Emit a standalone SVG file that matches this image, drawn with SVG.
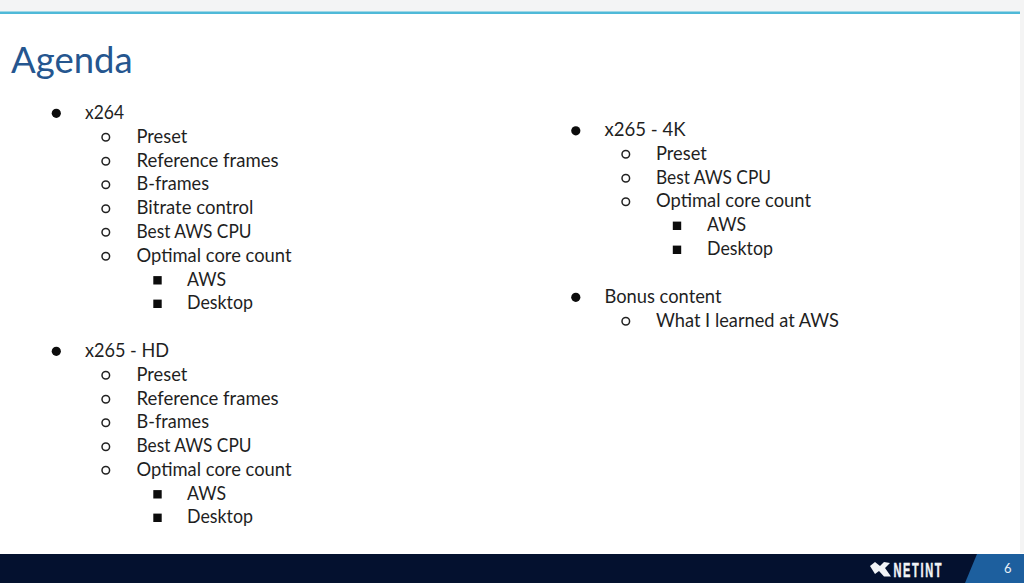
<svg xmlns="http://www.w3.org/2000/svg" width="1024" height="583" viewBox="0 0 1024 583">
<style>
text{font-family:"Lato","Carlito","Open Sans",sans-serif;fill:#1f1f1f;font-size:18.3px}
.t{font-size:36.500px;fill:#25568f}
.l{fill:#0c0c0c}
.o{fill:none;stroke:#222;stroke-width:1.5}
.s{fill:#0c0c0c}
</style>
<defs>
<circle id="b" r="4.6" class="l"/>
<circle id="c" r="3.8" class="o"/>
<rect id="q" x="-4.200" y="-4.200" width="8.400" height="8.400" class="s"/>
</defs>
<rect width="1024" height="583" fill="#fff"/>
<rect width="1024" height="12" fill="#f3f4f5"/>
<rect y="11.500" width="1020" height="2.500" fill="#4fb9d8"/>
<rect x="1020" width="4" height="553" fill="#f4f4f4"/>
<text class="t" x="11" y="73">Agenda</text>
<g id="col1" transform="translate(0 0.800)">
<use href="#b" x="56.300" y="112.500"/><text x="85" y="118" textLength="39" lengthAdjust="spacingAndGlyphs">x264</text>
<use href="#c" x="105.800" y="136.500"/><text x="136.500" y="142">Preset</text>
<use href="#c" x="105.800" y="160.500"/><text x="136.500" y="166" textLength="142" lengthAdjust="spacingAndGlyphs">Reference frames</text>
<use href="#c" x="105.800" y="184"/><text x="136.500" y="189.500" textLength="72.500" lengthAdjust="spacingAndGlyphs">B-frames</text>
<use href="#c" x="105.800" y="208"/><text x="136.500" y="213.500" textLength="117" lengthAdjust="spacingAndGlyphs">Bitrate control</text>
<use href="#c" x="105.800" y="231.500"/><text x="136.500" y="237" textLength="115" lengthAdjust="spacingAndGlyphs">Best AWS CPU</text>
<use href="#c" x="105.800" y="255.500"/><text x="136.500" y="261" textLength="155" lengthAdjust="spacingAndGlyphs">Optimal core count</text>
<use href="#q" x="157.500" y="279.500"/><text x="187" y="285" textLength="39" lengthAdjust="spacingAndGlyphs">AWS</text>
<use href="#q" x="157.500" y="303"/><text x="187" y="308.500" textLength="66" lengthAdjust="spacingAndGlyphs">Desktop</text>
<use href="#b" x="56.300" y="350.500"/><text x="85" y="356" textLength="84" lengthAdjust="spacingAndGlyphs">x265 - HD</text>
<use href="#c" x="105.800" y="374.500"/><text x="136.500" y="380">Preset</text>
<use href="#c" x="105.800" y="398.500"/><text x="136.500" y="404" textLength="142" lengthAdjust="spacingAndGlyphs">Reference frames</text>
<use href="#c" x="105.800" y="422"/><text x="136.500" y="427.500" textLength="72.500" lengthAdjust="spacingAndGlyphs">B-frames</text>
<use href="#c" x="105.800" y="446"/><text x="136.500" y="451.500" textLength="115" lengthAdjust="spacingAndGlyphs">Best AWS CPU</text>
<use href="#c" x="105.800" y="469.500"/><text x="136.500" y="475" textLength="155" lengthAdjust="spacingAndGlyphs">Optimal core count</text>
<use href="#q" x="157.500" y="493.500"/><text x="187" y="499" textLength="39" lengthAdjust="spacingAndGlyphs">AWS</text>
<use href="#q" x="157.500" y="517"/><text x="187" y="522.500" textLength="66" lengthAdjust="spacingAndGlyphs">Desktop</text>
</g>
<g id="col2" transform="translate(0 0.800)">
<use href="#b" x="575.800" y="130"/><text x="604.500" y="135.500" textLength="81" lengthAdjust="spacingAndGlyphs">x265 - 4K</text>
<use href="#c" x="625.800" y="153.500"/><text x="656" y="159">Preset</text>
<use href="#c" x="625.800" y="177.500"/><text x="656" y="183" textLength="115" lengthAdjust="spacingAndGlyphs">Best AWS CPU</text>
<use href="#c" x="625.800" y="201"/><text x="656" y="206.500" textLength="155" lengthAdjust="spacingAndGlyphs">Optimal core count</text>
<use href="#q" x="677" y="225"/><text x="707" y="230.500" textLength="39" lengthAdjust="spacingAndGlyphs">AWS</text>
<use href="#q" x="677" y="249"/><text x="707" y="254.500" textLength="66" lengthAdjust="spacingAndGlyphs">Desktop</text>
<use href="#b" x="575.800" y="296.500"/><text x="604.500" y="302" textLength="117" lengthAdjust="spacingAndGlyphs">Bonus content</text>
<use href="#c" x="625.800" y="320.500"/><text x="656" y="326" textLength="183" lengthAdjust="spacingAndGlyphs">What I learned at AWS</text>
</g>
<g id="footer">
<rect y="554" width="1024" height="29" fill="#04112f"/>
<polygon points="977,554 1024,554 1024,583 965,583" fill="#1d5f9e"/>
<polygon points="870,566 875,562 880,566 884,562 890,563 885,568 891,576.500 884,576.500 879,571 875,574" fill="#f2f4f7"/>
<text transform="translate(893.500 577) scale(0.55 1)" style="font-family:'Liberation Sans',sans-serif;font-weight:bold;font-size:20px;letter-spacing:3px;fill:#f2f4f7;stroke:#f2f4f7;stroke-width:.5px">NETINT</text>
<text x="1004" y="573" style="font-size:13px;fill:#e8f0f8">6</text>
</g>
</svg>
